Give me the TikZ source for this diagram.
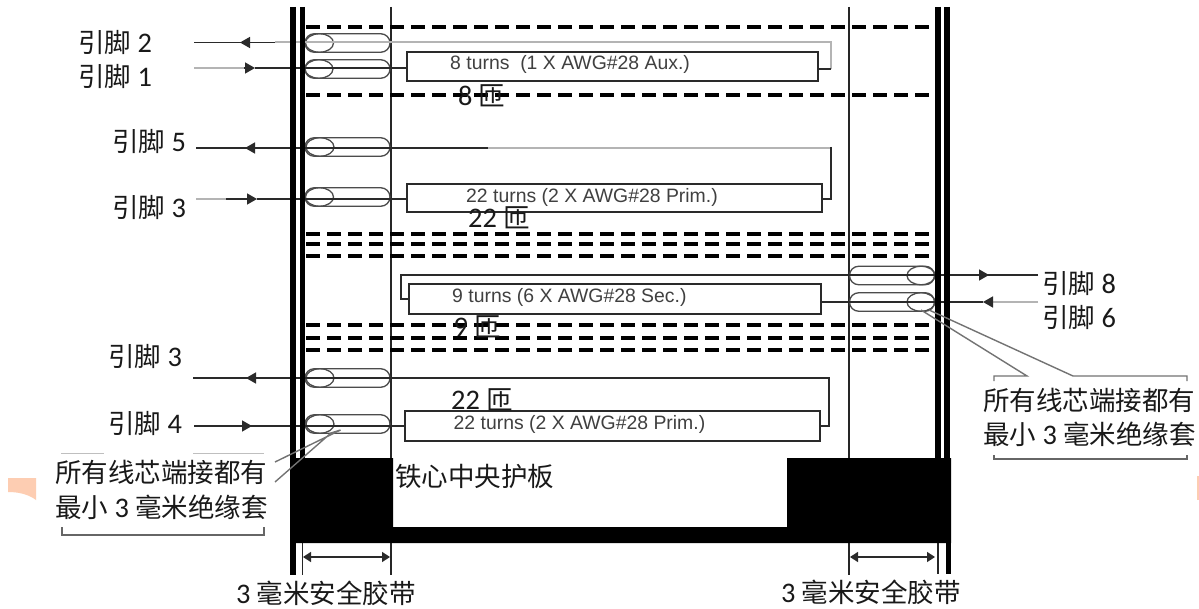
\documentclass[tikz,border=0pt]{standalone}
\usepackage{fontspec}
\setmainfont[Scale=1.07]{Carlito}
\newfontfamily\cjkf{Noto Sans CJK SC}
\newfontfamily\arialf{Liberation Sans}
\usetikzlibrary{arrows.meta,shapes.misc,shapes.geometric}
\definecolor{ink}{HTML}{2A2A2A}
\definecolor{lightwire}{HTML}{B4B4B4}
\definecolor{peach}{HTML}{FDCDB2}
\tikzset{
  wire/.style={line width=1.5pt,draw=ink},
  greywire/.style={line width=2pt,draw=lightwire},
  thinv/.style={line width=1.3pt,draw=black!85},
  wall/.style={line width=5.8pt,draw=black},
  insdash/.style={line width=3.6pt,draw=black,dash pattern=on 14pt off 7pt},
  arrowR/.style={-{Triangle[length=10pt,width=11pt]}},
  sleeve/.style={draw=black!70,line width=1.3pt,rounded rectangle,minimum width=85pt,minimum height=18.5pt,inner sep=0pt},
  sleeveend/.style={draw=black!70,line width=1.3pt,ellipse,minimum width=28pt,minimum height=18.5pt,inner sep=0pt},
  coil/.style={draw=ink,line width=1.5pt,rectangle,inner sep=0pt},
  pinlabel/.style={anchor=west,inner sep=0pt,text=black!90,font=\fontsize{26.5}{27}\selectfont},
  coiltext/.style={anchor=west,inner sep=0pt,text=black!75,font=\arialf\fontsize{19.4}{20}\selectfont},
  note/.style={anchor=west,inner sep=0pt,text=black!90,font=\fontsize{26.5}{27}\selectfont},
  callout/.style={line width=1.4pt,draw=black!55},
  bracket/.style={line width=1.4pt,draw=black!60},
  dim/.style={line width=1.4pt,draw=ink,{Triangle[length=8pt,width=10pt]}-{Triangle[length=8pt,width=10pt]}},
}
\begin{document}
\begin{tikzpicture}[x=1pt,y=-1pt]
\useasboundingbox (0,0) rectangle (1199,609);
\fill[white] (0,0) rectangle (1199,609);
% peach remnants
\fill[peach] (8,478) -- (36,478) -- (36,500) .. controls (28,494) and (18,492) .. (8,492) -- cycle;
\fill[peach] (1197,476) rectangle (1199,500);
% vertical safety-tape lines
\draw[thinv] (391,7) -- (391,575);
\draw[thinv] (849,7) -- (849,575);
% insulation layers
\foreach \yy in {27,95,234,244,256,325,338,350}{
  \draw[insdash] (306,\yy) -- (935,\yy);
}
% coils
\node[coil,minimum width=411pt,minimum height=29pt] (boxA) at (612.5,66.5) {};
\node[coil,minimum width=415pt,minimum height=28pt] (boxB) at (614.5,198) {};
\node[coil,minimum width=412pt,minimum height=30pt] (boxC) at (615,299) {};
\node[coil,minimum width=415pt,minimum height=30pt] (boxD) at (612.5,426) {};
\node[coiltext] (tA) at (450,64) {8 turns\ \ (1 X AWG\#28 Aux.)};
\node[coiltext] (tB) at (466,197) {22 turns (2 X AWG\#28 Prim.)};
\node[coiltext] (tC) at (452,297) {9 turns (6 X AWG\#28 Sec.)};
\node[coiltext] (tD) at (453.5,424) {22 turns (2 X AWG\#28 Prim.)};
% sleeves
\foreach \nn/\cx/\cy/\ex in {sa/347.5/43/319.5,sb/347.5/69/319,sc/347.5/147/320,sd/347.5/197/319.5,se/347.5/378/320,sf/347.5/424/320,sg/892/275.5/921,sh/892/302/921}{
  \node[sleeve] (\nn) at (\cx,\cy) {};
  \node[sleeveend] (\nn e) at (\ex,\cy) {};
}
% free ends and bends
\coordinate (p2) at (194,42.5);
\coordinate (p2tip) at (240,42.5);
\coordinate (p2dark) at (275,42.5);
\coordinate (a1) at (831,42.5);
\coordinate (a2) at (831,69);
\coordinate (p1) at (194,68);
\coordinate (p1grey) at (244,68);
\coordinate (p1tip) at (255,68);
\coordinate (p5) at (196,148);
\coordinate (p5tip) at (245,148);
\coordinate (p5grey) at (488,148);
\coordinate (b1) at (831,147);
\coordinate (b2) at (831,199);
\coordinate (p3) at (196,199);
\coordinate (p3dark) at (226,199);
\coordinate (p3tip) at (257,199);
\coordinate (p8) at (1038,275);
\coordinate (p8tip) at (989,275);
\coordinate (c1) at (401,275);
\coordinate (c2) at (401,299);
\coordinate (p6) at (1038,302);
\coordinate (p6dark) at (992,302);
\coordinate (p6tip) at (983,302);
\coordinate (q3) at (193,378);
\coordinate (q3tip) at (246,378);
\coordinate (d1) at (829,378);
\coordinate (d2) at (829,426);
\coordinate (p4) at (194,426);
\coordinate (p4tip) at (252,426);
% wires
\draw[wire] (p2dark) -- (p2);
\draw[wire,arrowR] (p2dark) -- (p2tip);
\draw[greywire] (p2dark) -- (a1) -- (a2);
\draw[wire] (a2) -- (boxA.east |- a2);
\draw[greywire] (p1) -- (p1grey);
\draw[wire,arrowR] (p1grey) -- (p1tip);
\draw[wire] (p1tip) -- (boxA.west |- p1tip);
\draw[wire] (p5) -- (p5grey);
\draw[wire,arrowR] (256,148) -- (p5tip);
\draw[greywire,line width=1.4pt] (p5grey) -- (b1 |- p5grey);
\draw[wire] (b1) -- (b2) -- (boxB.east |- b2);
\draw[greywire] (p3) -- (p3dark);
\draw[wire,arrowR] (p3dark) -- (p3tip);
\draw[wire] (p3tip) -- (boxB.west |- p3tip);
\draw[wire] (p8) -- (c1) -- (c2) -- (boxC.west |- c2);
\draw[wire,arrowR] (960,275) -- (p8tip);
\draw[greywire] (p6) -- (p6dark);
\draw[wire,arrowR] (p6dark) -- (p6tip);
\draw[wire] (p6tip) -- (boxC.east |- p6tip);
\draw[wire] (q3) -- (d1) -- (d2) -- (boxD.east |- d2);
\draw[wire,arrowR] (290,378) -- (q3tip);
\draw[wire] (p4) -- (boxD.west |- p4);
\draw[wire,arrowR] (p4) -- (p4tip);
% walls
\draw[wall] (293,7) -- (293,575);
\draw[wall] (302.5,7) -- (302.5,458);
\draw[thinv] (302.5,458) -- (302.5,575);
\draw[wall] (938,7) -- (938,458);
\draw[wall] (947,7) -- (947,458);
\draw[thinv] (938,458) -- (938,574);
\draw[wall] (948.5,458) -- (948.5,574);
% bobbin
\fill[black] (291,458) -- (393,458) -- (393,527) -- (787,527) -- (787,458) -- (951,458) -- (951,543) -- (291,543) -- cycle;
% dimension arrows
\coordinate (da) at (303,557);
\coordinate (db) at (390,557);
\coordinate (dc) at (850,557);
\coordinate (dd) at (935,557);
\draw[dim] (da) -- (db);
\draw[dim] (dc) -- (dd);
% callouts
\coordinate (cl1) at (340.5,430);
\coordinate (cl2) at (275,462);
\coordinate (cl3) at (331,433);
\coordinate (cl4) at (275,482);
\draw[callout] (cl2) -- (cl1) -- (cl3) -- (cl4);
\draw[bracket] (62,527) -- (62,535) -- (264,535) -- (264,527);
\draw[draw=black!25,line width=.8pt] (61,453) -- (104,453) (193,453) -- (264,453);
\coordinate (cr0) at (921,310);
\coordinate (cr1) at (1027,376);
\coordinate (cr2) at (994,376);
\coordinate (cr3) at (994,381);
\coordinate (cr4) at (929,310);
\coordinate (cr5) at (1073,376);
\coordinate (cr6) at (1187,376);
\coordinate (cr7) at (1187,381);
\draw[callout] (cr0) -- (cr1) -- (cr2) -- (cr3);
\draw[callout] (cr4) -- (cr5) -- (cr6) -- (cr7);
\draw[bracket] (994,455) -- (994,459) -- (1187,459) -- (1187,455);
% labels
\node[pinlabel] (l2) at (78,43) {{\cjkf 引脚} 2};
\node[pinlabel] (l1) at (78,76) {{\cjkf 引脚} 1};
\node[pinlabel] (l5) at (112,141) {{\cjkf 引脚} 5};
\node[pinlabel] (l3) at (112,207) {{\cjkf 引脚} 3};
\node[pinlabel] (l3b) at (108,356) {{\cjkf 引脚} 3};
\node[pinlabel] (l4) at (108,423) {{\cjkf 引脚} 4};
\node[pinlabel] (l8) at (1042,283) {{\cjkf 引脚} 8};
\node[pinlabel] (l6) at (1042,317) {{\cjkf 引脚} 6};
\node[note] (n8) at (458,96) {8 {\cjkf 匝}};
\node[note] (n22a) at (468,218) {22 {\cjkf 匝}};
\node[note] (n9) at (453.5,327) {9 {\cjkf 匝}};
\node[note] (n22b) at (451,400) {22 {\cjkf 匝}};
\node[note] (core) at (395,476) {\cjkf 铁心中央护板};
\node[note] (cl5) at (55,472) {\cjkf 所有线芯端接都有};
\node[note] (cl6) at (55,507) {{\cjkf 最小} 3 {\cjkf 毫米绝缘套}};
\node[note] (cr8) at (983,400) {\cjkf 所有线芯端接都有};
\node[note] (cr9) at (983,434) {{\cjkf 最小} 3 {\cjkf 毫米绝缘套}};
\node[note] (tape1) at (236,593) {3 {\cjkf 毫米安全胶带}};
\node[note] (tape2) at (781,592) {3 {\cjkf 毫米安全胶带}};
\end{tikzpicture}
\end{document}
